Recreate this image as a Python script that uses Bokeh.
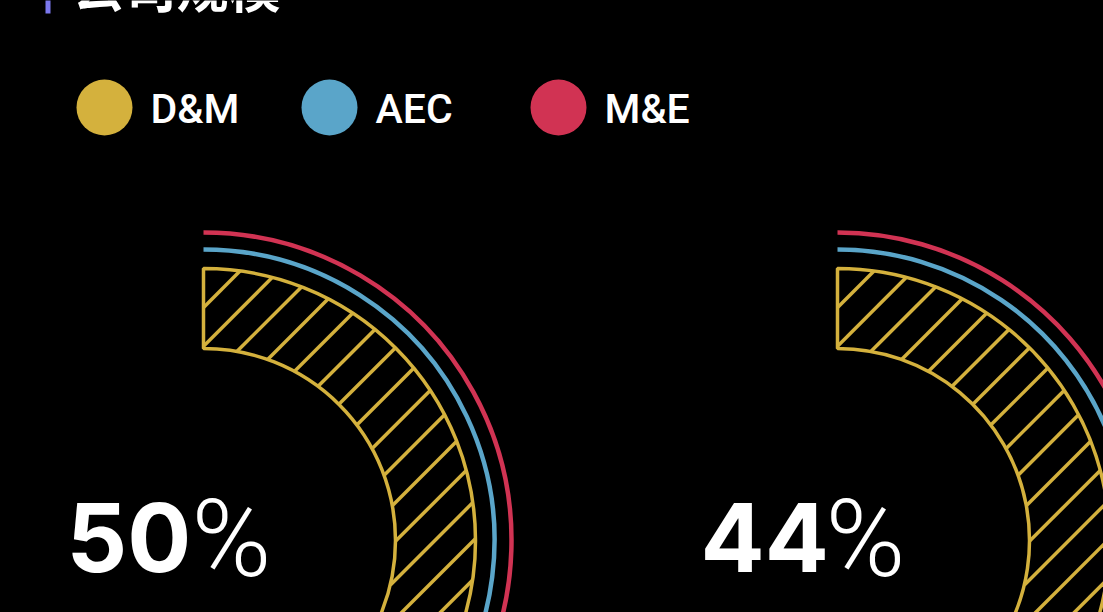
import math
import numpy as np
from bokeh.plotting import figure
from bokeh.models import Range1d
from bokeh.core.properties import value
from bokeh.embed import file_html
from bokeh.resources import INLINE

# ---- data ----
title_text = "公司规模"
categories = ["D&M", "AEC", "M&E"]
colors = ["#d4b13d", "#5aa5c9", "#d13353"]
dm_share = [50, 44]      # hatched D&M ring (%), shown as the big number
aec_share = [36, 38]     # blue thin arc (%), mostly outside the visible area
me_share = [34, 36]      # red thin arc (%), mostly outside the visible area

W, H = 1103, 612
p = figure(width=W, height=H, output_backend="svg", toolbar_location=None,
           x_range=Range1d(0, W), y_range=Range1d(H, 0),
           background_fill_color="black", border_fill_color="black",
           min_border=0, outline_line_color=None)
p.axis.visible = False
p.grid.visible = False

# title fragment + accent bar
p.quad(left=[45], right=[50], top=[-5], bottom=[13], fill_color="#7b78ee", line_color=None)
p.text(x=[72], y=[-15], text=[title_text], text_color="white",
       text_font=value("Noto Sans CJK SC"), text_font_size="52px",
       text_font_style="bold", text_baseline="alphabetic")

# legend
leg_x = [104, 329, 558]
p.circle(x=leg_x, y=[107] * 3, radius=28, fill_color=colors, line_color=None)
p.text(x=[x + 46 for x in leg_x], y=[108] * 3, text=categories, text_color="white",
       text_font=value("Roboto Medium"), text_font_size="41px",
       text_baseline="alphabetic", text_align="left")

# rings
cx = [203, 837]
cy = 540
r_in, r_out, r_blue, r_red = 192, 272, 291, 308
hatch_step, hatch_phase = 38.7, -233.0
top = math.pi / 2


def hatch_segments(c, sweep):
    """45-degree hatch lines clipped to the annular sector (screen coords, y down)."""
    xs, ys = [], []
    t = np.arange(-r_out - 2, r_out + 2, 0.2)
    k0 = math.floor((-r_out * 1.5 - hatch_phase) / hatch_step)
    k1 = math.ceil((r_out * 1.5 - hatch_phase) / hatch_step)
    for k in range(k0, k1 + 1):
        d = hatch_phase + k * hatch_step
        dx = d / 2 + t
        dy = d / 2 - t
        r = np.hypot(dx, dy)
        theta = np.arctan2(-dy, dx)
        phi = np.mod(math.pi / 2 - theta, 2 * math.pi)
        inside = (r >= r_in) & (r <= r_out) & (phi <= sweep)
        if not inside.any():
            continue
        idx = np.flatnonzero(inside)
        breaks = np.flatnonzero(np.diff(idx) > 1)
        starts = np.r_[idx[0], idx[breaks + 1]]
        ends = np.r_[idx[breaks], idx[-1]]
        for s, e in zip(starts, ends):
            xs.append([c + dx[s], c + dx[e]])
            ys.append([cy + dy[s], cy + dy[e]])
    return xs, ys


for i, c in enumerate(cx):
    sweep = 2 * math.pi * dm_share[i] / 100
    hx, hy = hatch_segments(c, sweep)
    p.multi_line(xs=hx, ys=hy, line_color=colors[0], line_width=3.5)
    p.annular_wedge(x=c, y=cy, inner_radius=r_in, outer_radius=r_out,
                    start_angle=top, end_angle=top - sweep,
                    direction="clock", fill_color=None,
                    line_color=colors[0], line_width=3.5)
    p.arc(x=c, y=cy, radius=r_blue, start_angle=top,
          end_angle=top - 2 * math.pi * aec_share[i] / 100, direction="clock",
          line_color=colors[1], line_width=4.5)
    p.arc(x=c, y=cy, radius=r_red, start_angle=top,
          end_angle=top - 2 * math.pi * me_share[i] / 100, direction="clock",
          line_color=colors[2], line_width=4.5)
    p.text(x=[c - 137], y=[537], text=[str(dm_share[i])], text_color="white",
           text_font=value("Inter"), text_font_size="95px", text_font_style="bold",
           text_baseline="alphabetic", text_align="left")
    p.text(x=[c - 12], y=[538], text=["%"], text_color="white",
           text_font=value("Roboto Light"), text_font_size="108px",
           text_baseline="alphabetic", text_align="left")

html = file_html(p, INLINE)
html = html.replace("<head>", "<head><style>html,body{margin:0;padding:0;background:#000;overflow:hidden}</style>", 1)
open("out.html", "w").write(html)
